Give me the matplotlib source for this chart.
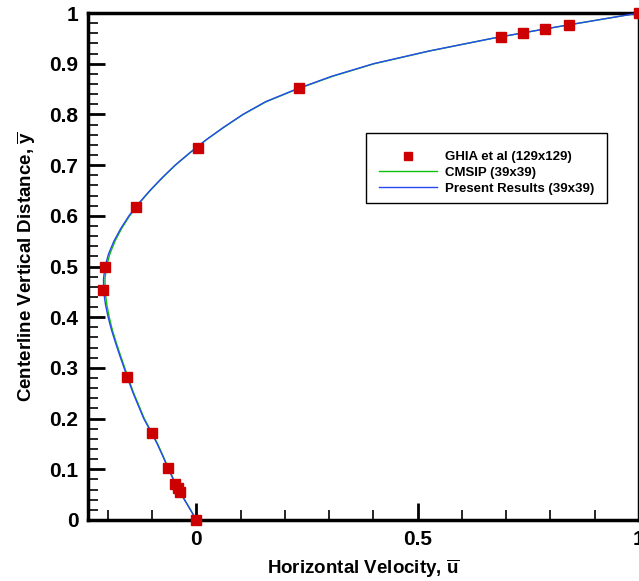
import matplotlib
matplotlib.use("Agg")
import matplotlib.pyplot as plt
from matplotlib.patches import Rectangle
from matplotlib.ticker import FixedLocator, MultipleLocator

plt.rcParams['font.family'] = ['Liberation Sans', 'DejaVu Sans']
plt.rcParams['font.weight'] = 'bold'
plt.rcParams['mathtext.fontset'] = 'custom'
plt.rcParams['mathtext.rm'] = 'Liberation Sans:bold'
plt.rcParams['mathtext.it'] = 'Liberation Sans:bold'
plt.rcParams['mathtext.bf'] = 'Liberation Sans:bold'

# Ghia et al (129x129), Re=100, u along vertical centerline
ghia_y = [1.0, 0.9766, 0.9688, 0.9609, 0.9531, 0.8516, 0.7344, 0.6172, 0.5,
          0.4531, 0.2813, 0.1719, 0.1016, 0.0703, 0.0625, 0.0547, 0.0]
ghia_u = [1.0, 0.84123, 0.78871, 0.73722, 0.68717, 0.23151, 0.00332, -0.13641,
          -0.20581, -0.2109, -0.15662, -0.1015, -0.06434, -0.04775, -0.04192,
          -0.03717, 0.0]

# curves
curve_y = [0.0, 0.025, 0.05, 0.075, 0.1, 0.125, 0.15, 0.175, 0.2, 0.225, 0.25,
           0.275, 0.3, 0.325, 0.35, 0.375, 0.4, 0.425, 0.45, 0.475, 0.5, 0.525,
           0.55, 0.575, 0.6, 0.625, 0.65, 0.675, 0.7, 0.725, 0.75, 0.775, 0.8,
           0.825, 0.85, 0.875, 0.9, 0.925, 0.95, 0.9625, 0.975, 0.9875, 1.0]
present_u = [0.0, -0.0170, -0.0340, -0.0495, -0.0630, -0.0755, -0.0885, -0.1035,
             -0.1190, -0.1310, -0.1430, -0.1535, -0.1635, -0.1735, -0.1830,
             -0.1920, -0.1995, -0.2055, -0.2095, -0.2100, -0.2065, -0.1985,
             -0.1865, -0.1710, -0.1525, -0.1300, -0.1050, -0.0775, -0.0480,
             -0.0140, 0.0220, 0.0620, 0.1050, 0.1560, 0.2260, 0.3050, 0.4000,
             0.5250, 0.6680, 0.7480, 0.8300, 0.9150, 1.0]
cmsip_u = [0.0, -0.0165, -0.0333, -0.0488, -0.0622, -0.0746, -0.0876, -0.1025,
           -0.1178, -0.1297, -0.1416, -0.1520, -0.1619, -0.1718, -0.1812,
           -0.1900, -0.1970, -0.2025, -0.2062, -0.2066, -0.2033, -0.1955,
           -0.1840, -0.1690, -0.1510, -0.1290, -0.1042, -0.0770, -0.0475,
           -0.0136, 0.0225, 0.0628, 0.1060, 0.1575, 0.2280, 0.3070, 0.4020,
           0.5265, 0.6690, 0.7490, 0.8305, 0.9155, 1.0]

y_ticks = [0, 0.1, 0.2, 0.3, 0.4, 0.5, 0.6, 0.7, 0.8, 0.9, 1.0]
y_labels = ['0', '0.1', '0.2', '0.3', '0.4', '0.5', '0.6', '0.7', '0.8', '0.9', '1']
x_ticks = [0, 0.5, 1.0]
x_labels = ['0', '0.5', '1']

fig = plt.figure(figsize=(6.39, 5.81), dpi=100)
ax = fig.add_axes([0.1377, 0.105, 0.8623, 0.8726])

ax.plot(cmsip_u, curve_y, color='#10c010', lw=1.0, label='CMSIP (39x39)', zorder=2)
ax.plot(present_u, curve_y, color='#2848f0', lw=1.0, label='Present Results (39x39)', zorder=3)
ax.plot(ghia_u, ghia_y, 's', color='#cc0000', ms=7, ls='none',
        label='GHIA et al (129x129)', clip_on=False, zorder=4)

ax.set_xlim(-0.245, 1.0)
ax.set_ylim(0, 1)
ax.xaxis.set_major_locator(FixedLocator(x_ticks))
ax.xaxis.set_minor_locator(MultipleLocator(0.1))
ax.yaxis.set_major_locator(FixedLocator(y_ticks))
ax.yaxis.set_minor_locator(MultipleLocator(0.02))
ax.set_xticklabels(x_labels)
ax.set_yticklabels(y_labels)

ax.tick_params(which='both', direction='in', top=False, right=False, labelsize=15)
ax.tick_params(which='major', length=12, width=2)
ax.tick_params(which='minor', length=7, width=1.2)
ax.tick_params(axis='x', pad=7)
ax.tick_params(axis='y', pad=7)
for s in ax.spines.values():
    s.set_linewidth(2.5)

ax.set_xlabel(r'Horizontal Velocity, $\overline{\mathrm{u}}$', fontsize=13.5, fontweight='bold', labelpad=6)
ax.set_ylabel(r'Centerline Vertical Distance, $\overline{\mathrm{y}}$', fontsize=13.5, fontweight='bold', labelpad=9)

# legend box
ax.add_patch(Rectangle((0.5045, 0.6252), 0.4375, 0.1381, transform=ax.transAxes,
                       facecolor='white', edgecolor='black', lw=1.0, zorder=5))
h, l = ax.get_legend_handles_labels()
order = [2, 0, 1]
leg = ax.legend([h[i] for i in order], [l[i] for i in order],
                loc='upper left', bbox_to_anchor=(0.5045, 0.7534),
                fontsize=9.5, frameon=False, handlelength=4.4, borderpad=1.0,
                labelspacing=0.25, handletextpad=0.6, borderaxespad=0,
                markerscale=0.75)
leg.set_zorder(6)

fig.savefig('out.png', dpi=100)
